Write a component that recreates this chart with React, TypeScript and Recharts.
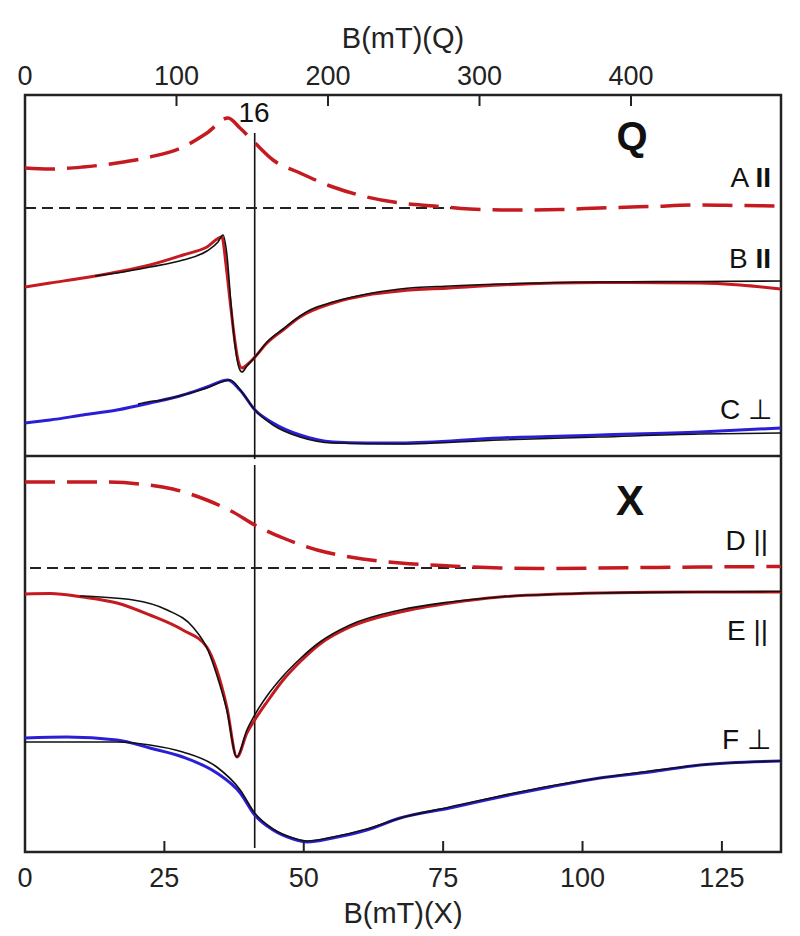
import { LineChart, Line, XAxis, YAxis, ReferenceLine, ReferenceArea } from 'recharts';

const FONT = '"Liberation Sans", Arial, sans-serif';
const RED = '#c41a20';
const BLUE = '#2a1fd6';
const FIT = '#111111';

const Q_TICKS = [0, 100, 200, 300, 400];
const X_TICKS = [0, 25, 50, 75, 100, 125];
const Q_MAX = 499;
const X_MAX = 135.6;
const Y_MAX = 757;
const DIVIDER = 396;
const LINE_16 = 41.2;

// Q band panel (x in mT, Q scale)
const aX = [0, 16.5, 38.3, 60.7, 82.5, 104.3, 120.1, 134, 141.9, 151.8, 163.7, 181.5, 203.3, 225.7, 247.5, 270, 293.7, 320, 353, 379.5, 412.5, 445.5, 472, 499];
const aY = [684, 683, 685, 689, 695, 705, 719, 734, 724, 709, 692, 679, 665, 655, 649, 646, 643, 642, 642.5, 644, 645.5, 647, 646.5, 646];
const aBaseX = [0, 290];
const aBaseY = [644, 644];

const bX = [0, 16.5, 38.3, 60.7, 82.5, 104.3, 120.1, 130, 132.7, 135.3, 138, 140.6, 143.2, 147.2, 151.8, 159.7, 170.3, 181.5, 203.3, 225.7, 247.5, 280.5, 313.5, 379.5, 445.5, 472, 499];
const bY = [565, 569, 574, 580, 587, 597, 605, 615, 587, 552, 517, 492, 484, 488, 495, 509, 522, 535, 549, 557, 561, 564, 567, 569.5, 569, 567, 563];
const bFitX = [46.2, 60.7, 82.5, 104.3, 120.1, 127.4, 130.7, 133.3, 136, 138.6, 141.3, 143.2, 146.5, 151.8, 159.7, 170.3, 181.5, 188.1, 203.3, 225.7, 247.5, 280.5, 313.5, 379.5, 445.5, 499];
const bFitY = [576, 579, 585, 592, 601, 610, 617, 597, 547, 507, 484, 480, 486, 495, 510, 523, 536, 542, 550, 558, 563, 566, 568, 570, 570.5, 571];

const cX = [0, 16.5, 38.3, 60.7, 82.5, 104.3, 120.1, 134, 141.9, 151.8, 163.7, 181.5, 203.3, 225.7, 247.5, 313.5, 379.5, 445.5, 499];
const cY = [429, 432, 437, 442, 449, 457, 465, 472, 462, 442, 429, 417, 410, 409, 409, 414, 417, 420, 424];
const cFitX = [74.6, 82.5, 89.1, 104.3, 120.1, 135.3, 143.2, 151.8, 163.7, 181.5, 203.3, 247.5, 313.5, 379.5, 445.5, 499];
const cFitY = [448, 450.5, 451.5, 457, 464, 472, 460, 442, 427, 415, 409, 408, 412, 415, 418, 419];

// X band panel (x in mT, X scale)
const dX = [0, 13.5, 20.6, 26.5, 32.6, 37.3, 41.2, 46.3, 52.4, 58.3, 67.3, 76.2, 85.2, 94.2, 103.1, 112.1, 121.1, 135.6];
const dY = [370, 370, 368, 363, 352, 340, 327, 314, 302, 295, 289, 286, 284, 283.5, 284, 284.5, 285, 285.5];
const dBaseX = [0.9, 81.6];
const dBaseY = [284, 284];

const eX = [0, 4.5, 10.4, 16.5, 22.4, 28.3, 32.6, 34.4, 36.2, 38.0, 39.8, 41.2, 43.4, 46.3, 49.3, 52.9, 58.3, 67.3, 76.2, 85.2, 103.1, 121.1, 135.6];
const eY = [258, 258.5, 255, 249, 237, 222, 205, 182, 145, 95, 119, 132, 150, 172, 190, 208, 225, 240, 249, 255, 259, 260, 260];
const eFitX = [9.9, 19.4, 25.5, 30.1, 32.8, 34.4, 36.2, 38.0, 39.8, 41.2, 43.4, 46.3, 49.3, 52.9, 58.3, 67.3, 76.2, 85.2, 103.1, 121.1, 135.6];
const eFitY = [256, 252, 242, 225, 202, 177, 142, 95, 122, 137, 156, 176, 193, 210, 227, 242, 250, 255, 259, 260, 260.5];

const fX = [0, 7.5, 16.5, 22.4, 28.3, 34.4, 38.6, 41.2, 44.5, 48.1, 50.6, 55.2, 61.3, 67.3, 76.2, 85.2, 94.2, 103.1, 112.1, 121.1, 135.6];
const fY = [114, 115, 112, 104, 95, 79, 59, 37, 22, 13, 10, 14, 22, 34, 44, 55, 65, 74, 80, 87, 91];
const fFitY = [110, 110, 110, 107, 100, 85, 62, 39, 23, 14, 11, 15, 23, 34, 45, 56, 66, 74, 81, 87, 91];

const pts = (xs: number[], ys: number[]) => xs.map((x, i) => ({ x, y: ys[i] }));

type Trace = {
  key: string;
  axis: 'q' | 'x';
  data: { x: number; y: number }[];
  color: string;
  width: number;
  dash?: string;
};

const traces: Trace[] = [
  { key: 'aBase', axis: 'q', data: pts(aBaseX, aBaseY), color: '#222', width: 2, dash: '11 6' },
  { key: 'a', axis: 'q', data: pts(aX, aY), color: RED, width: 3.5, dash: '30 12' },
  { key: 'b', axis: 'q', data: pts(bX, bY), color: RED, width: 3 },
  { key: 'bFit', axis: 'q', data: pts(bFitX, bFitY), color: FIT, width: 1.6 },
  { key: 'c', axis: 'q', data: pts(cX, cY), color: BLUE, width: 3 },
  { key: 'cFit', axis: 'q', data: pts(cFitX, cFitY), color: FIT, width: 1.6 },
  { key: 'dBase', axis: 'x', data: pts(dBaseX, dBaseY), color: '#222', width: 2, dash: '11 6' },
  { key: 'd', axis: 'x', data: pts(dX, dY), color: RED, width: 3.5, dash: '30 12' },
  { key: 'e', axis: 'x', data: pts(eX, eY), color: RED, width: 3 },
  { key: 'eFit', axis: 'x', data: pts(eFitX, eFitY), color: FIT, width: 1.6 },
  { key: 'f', axis: 'x', data: pts(fX, fY), color: BLUE, width: 3 },
  { key: 'fFit', axis: 'x', data: pts(fX, fFitY), color: FIT, width: 1.6 },
];

const tickStyle = { fontSize: 27, fill: '#222', fontFamily: FONT };

export default function App() {
  return (
    <div style={{ position: 'absolute', left: 0, top: 0, width: 800, height: 936, background: '#fff' }}>
      <LineChart width={800} height={936} margin={{ top: 0, right: 19, bottom: 0, left: 25 }}>
        <XAxis
          xAxisId="q"
          orientation="top"
          type="number"
          dataKey="x"
          domain={[0, Q_MAX]}
          ticks={Q_TICKS}
          height={95}
          axisLine={false}
          tickLine={{ stroke: '#222', strokeWidth: 2 }}
          tickSize={-11}
          tickMargin={21}
          tick={tickStyle}
          allowDataOverflow
          label={{ value: 'B(mT)(Q)', position: 'insideTop', offset: 27, fill: '#222', fontSize: 29, fontFamily: FONT }}
        />
        <XAxis
          xAxisId="x"
          orientation="bottom"
          type="number"
          dataKey="x"
          domain={[0, X_MAX]}
          ticks={X_TICKS}
          height={84}
          axisLine={false}
          tickLine={{ stroke: '#222', strokeWidth: 2 }}
          tickSize={-11}
          tickMargin={27}
          tick={tickStyle}
          allowDataOverflow
          label={{ value: 'B(mT)(X)', position: 'insideBottom', offset: 13, fill: '#222', fontSize: 29, fontFamily: FONT }}
        />
        <YAxis yAxisId="y" type="number" domain={[0, Y_MAX]} hide allowDataOverflow />

        <ReferenceLine xAxisId="x" yAxisId="y" y={DIVIDER} stroke="#222" strokeWidth={2.5} />
        <ReferenceLine
          xAxisId="x"
          yAxisId="y"
          segment={[{ x: LINE_16, y: 719 }, { x: LINE_16, y: 393 }]}
          stroke="#111"
          strokeWidth={1.6}
        />
        <ReferenceLine
          xAxisId="x"
          yAxisId="y"
          segment={[{ x: LINE_16, y: 387 }, { x: LINE_16, y: 4 }]}
          stroke="#111"
          strokeWidth={1.6}
        />

        {traces.map((t) => (
          <Line
            key={t.key}
            xAxisId={t.axis}
            yAxisId="y"
            data={t.data}
            dataKey="y"
            type="monotone"
            stroke={t.color}
            strokeWidth={t.width}
            strokeDasharray={t.dash}
            dot={false}
            activeDot={false}
            isAnimationActive={false}
          />
        ))}

        <ReferenceArea
          xAxisId="x"
          yAxisId="y"
          x1={0}
          x2={X_MAX}
          y1={0}
          y2={Y_MAX}
          fill="none"
          fillOpacity={0}
          stroke="#222"
          strokeWidth={2.5}
          strokeOpacity={1}
        />
      </LineChart>

      <svg
        width={800}
        height={936}
        style={{ position: 'absolute', left: 0, top: 0, pointerEvents: 'none' }}
        fontFamily={FONT}
        fill="#111"
      >
        <text x={254} y={112} fontSize={28} textAnchor="middle" dominantBaseline="central">16</text>
        <text x={632} y={136} fontSize={40} fontWeight="bold" textAnchor="middle" dominantBaseline="central">Q</text>
        <text x={630} y={500} fontSize={42} fontWeight="bold" textAnchor="middle" dominantBaseline="central">X</text>
        <text x={771} y={177} fontSize={28} textAnchor="end" dominantBaseline="central">
          A <tspan fontWeight="bold">II</tspan>
        </text>
        <text x={771} y={258} fontSize={28} textAnchor="end" dominantBaseline="central">
          B <tspan fontWeight="bold">II</tspan>
        </text>
        <text x={772} y={409} fontSize={28} textAnchor="end" dominantBaseline="central">C ⊥</text>
        <text x={768} y={540} fontSize={28} textAnchor="end" dominantBaseline="central">D ||</text>
        <text x={768} y={630} fontSize={28} textAnchor="end" dominantBaseline="central">E ||</text>
        <text x={771} y={739} fontSize={28} textAnchor="end" dominantBaseline="central">F ⊥</text>
      </svg>
    </div>
  );
}
